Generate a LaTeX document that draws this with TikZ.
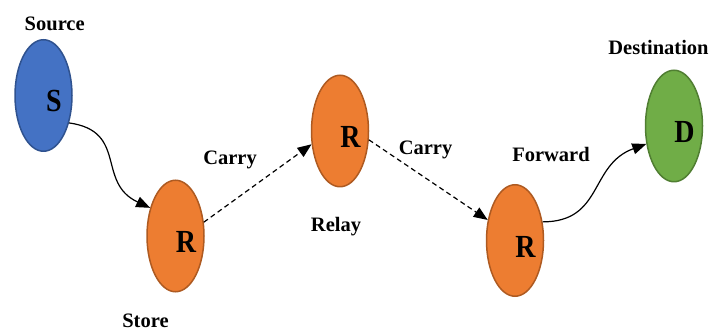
\documentclass[tikz,border=0pt]{standalone}
\usepackage{fontspec}
\setmainfont{Liberation Serif}
\usetikzlibrary{shapes.geometric,arrows.meta}
\definecolor{bfill}{HTML}{4472C4}
\definecolor{bline}{HTML}{2F528F}
\definecolor{ofill}{HTML}{ED7D31}
\definecolor{oline}{HTML}{AE5A21}
\definecolor{gfill}{HTML}{70AD47}
\definecolor{gline}{HTML}{507E32}
\begin{document}
\begin{tikzpicture}[x=1pt,y=1pt,
  ell/.style={ellipse, line width=1.5pt, minimum width=57pt, minimum height=111.5pt, inner sep=0pt},
  blueell/.style={ell, fill=bfill, draw=bline},
  orangeell/.style={ell, fill=ofill, draw=oline},
  greenell/.style={ell, fill=gfill, draw=gline},
  lbl/.style={font=\fontsize{20.5}{24}\selectfont\bfseries, inner sep=0pt},
  big/.style={label={[font=\fontsize{28}{30}\selectfont\bfseries, inner sep=0pt, xshift=10.5pt, yshift=-6pt]center:\scalebox{1}[1.15]{#1}}},
  arr/.style={-{Triangle[length=14pt,width=11pt]}, line width=1.2pt},
  dsh/.style={arr, dash pattern=on 5pt off 3.5pt}]
\useasboundingbox (0,0) rectangle (711,331);
\node[blueell, big=S] (S) at (43.5,235.5) {};
\node[orangeell, big=R] (R1) at (175.5,95) {};
\node[orangeell, big=R] (R2) at (340,200) {};
\node[orangeell, big=R] (R3) at (515,90.5) {};
\node[greenell, big=D] (D) at (674,205) {};
\node[lbl] (src) at (54.7,307) {Source};
\node[lbl] (sto) at (145.5,10.5) {Store};
\node[lbl] (c1) at (230,171.5) {Carry};
\node[lbl] (c2) at (425.5,181) {Carry};
\node[lbl] (rel) at (336,104.5) {Relay};
\node[lbl] (fwd) at (551,177) {Forward};
\node[lbl] (dst) at (658.5,284) {Destination};
\draw[arr] (S.-47) to[out=-8,in=155,looseness=1.3] (R1.132);
\draw[dsh] (R1.26) -- (R2.205);
\draw[dsh] (R2.-17) -- (R3.143);
\draw[arr] (R3.34) to[out=0,in=200,looseness=1.2] (D.213);
\end{tikzpicture}
\end{document}
